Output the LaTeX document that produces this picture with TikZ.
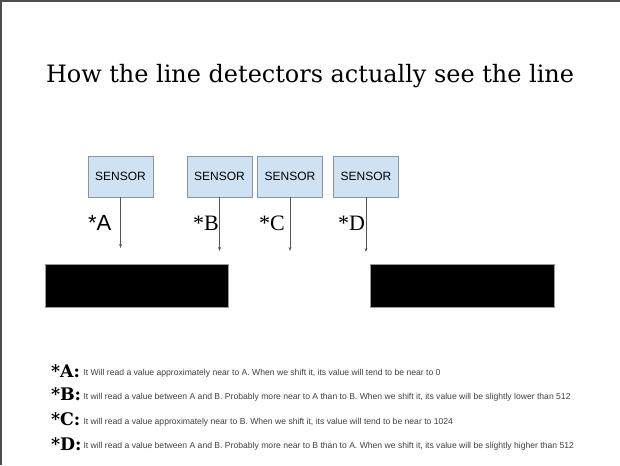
\documentclass[tikz,border=0pt]{standalone}
\usepackage{fontspec}
\setmainfont{Liberation Serif}
\setsansfont{Liberation Sans}
\newfontfamily\slabfont{DejaVu Serif}
\usetikzlibrary{arrows.meta}
\usetikzlibrary{positioning}
\definecolor{boxblue}{HTML}{CFE2F3}
\definecolor{boxline}{HTML}{8A96A3}
\definecolor{wire}{HTML}{555555}
\newcommand{\sensorbox}[2]{\node(#1)[sensor] at (#2,176.5) {SENSOR}}
\newcommand{\notekey}[3]{\node(key#1)[key] at (51,#2) {*#1:};
  \node(note#1)[note] at (83.5,#2-1.3) {#3}}

\begin{document}
\begin{tikzpicture}[
        x=0.75pt, y=-0.75pt,
        every node/.style={inner sep=0pt, outer sep=0pt},
        sensor/.style={rectangle, draw=boxline, fill=boxblue, line width=0.6pt,
                       minimum width=48.75pt, minimum height=30.75pt,
                       font=\sffamily\fontsize{9}{10}\selectfont},
        tag/.style={font=\fontsize{16.5}{18}\selectfont},
        key/.style={anchor=base west, font=\slabfont\bfseries\fontsize{13}{15}\selectfont},
        note/.style={anchor=base west, text=black!75, font=\sffamily\fontsize{6.45}{7}\selectfont},
        bar/.style={fill=black, draw=black!40, line width=0.4pt},
        sees/.style={draw=wire, line width=0.5pt, -{Stealth[length=3pt,width=2.2pt]}}
      ]
      \useasboundingbox (0,0) rectangle (620,465);
      % slide frame
      \draw[black!70, line width=1.5pt] (0.5,465) -- (0.5,0.5) -- (620,0.5);

      \node(title)[anchor=base west, font=\slabfont\fontsize{17.95}{22}\selectfont] at (46,82)
        {How the line detectors actually see the line};

      % sensors
      \sensorbox{sA}{120.5};
      \sensorbox{sB}{219.5};
      \sensorbox{sC}{290};
      \sensorbox{sD}{366};

      \coordinate (tipA) at (sA.south |- 0,248);
      \coordinate (tipB) at (sB.south |- 0,251);
      \coordinate (tipC) at (sC.south |- 0,251);
      \coordinate (tipD) at (sD.south |- 0,252);
      \draw[sees] (sA) -- (tipA);
      \draw[sees] (sB) -- (tipB);
      \draw[sees] (sC) -- (tipC);
      \draw[sees] (sD) -- (tipD);

      \node(tagA)[tag, font=\sffamily\fontsize{16.5}{18}\selectfont, anchor=base west] at (88,230) {*A};
      \node(tagB)[tag, anchor=base west] at (193,230) {*B};
      \node(tagC)[tag, anchor=base west] at (259,230) {*C};
      \node(tagD)[tag, anchor=base west] at (338,230) {*D};

      % the line under the sensors
      \fill[bar] (45,264) rectangle (228,307);
      \fill[bar] (370,264) rectangle (554,307);

      % what each sensor reads
      \notekey{A}{377}{It Will read a value approximately near to A. When we shift it, its value will tend to be near to 0};
      \notekey{B}{400.7}{It will read a value between A and B. Probably more near to A than to B. When we shift it, its value will be slightly lower than 512};
      \notekey{C}{425.5}{It will read a value approximately near to B. When we shift it, its value will tend to be near to 1024};
      \notekey{D}{450}{It will read a value between A and B. Probably more near to B than to A. When we shift it, its value will be slightly higher than 512};
    \end{tikzpicture}
\end{document}
